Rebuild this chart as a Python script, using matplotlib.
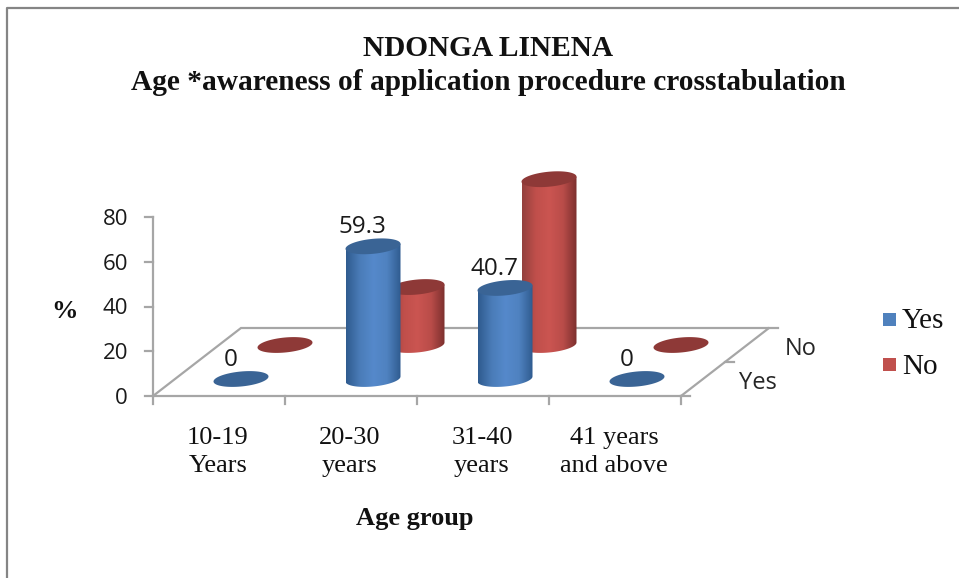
import matplotlib
matplotlib.use("Agg")
import matplotlib.pyplot as plt
import numpy as np
from matplotlib.colors import LinearSegmentedColormap
from matplotlib.patches import Rectangle, Polygon

# data
categories = ["10-19\nYears", "20-30\nyears", "31-40\nyears", "41 years\nand above"]
series_names = ["Yes", "No"]
yes_values = [0, 59.3, 40.7, 0]
no_values = [0, 25.9, 74.1, 0]
y_ticks = [0, 20, 40, 60, 80]

SERIF = "Liberation Serif"
SANS = "Open Sans"
GREY = "#a6a6a6"

# pixel layout of the 3d box
X0, Y0 = 153, 396
CAT_W = 132
PX_PER_UNIT = 179 / 80
DEPTH_X, DEPTH_Y = 88, -68
RX, RY, TILT = 27.5, 7.5, -2.5


def project(cat, depth, value):
    # cat in category units, depth 0..1 front to back, value in %
    return X0 + cat * CAT_W + depth * DEPTH_X, Y0 + depth * DEPTH_Y - value * PX_PER_UNIT


def ellipse_pts(cx, cy, t):
    return np.column_stack([cx + RX * np.cos(t), cy + RY * np.sin(t) + TILT * np.cos(t)])


fig = plt.figure(figsize=(9.59, 5.78), dpi=100)
ax = fig.add_axes([0, 0, 1, 1])
ax.axis("off")

# frame of the chart area
ax.plot([6.5, 6.5, 959], [578, 7.5, 7.5], color="#858585", lw=1.6, solid_capstyle="butt")

# value axis
xa, ya0 = project(0, 0, 0)
xa, ya1 = project(0, 0, max(y_ticks))
ax.plot([xa, xa], [ya0, ya1], color=GREY, lw=1.6)
for v in y_ticks:
    x, y = project(0, 0, v)
    ax.plot([x - 8, x], [y, y], color=GREY, lw=1.6)
    ax.text(x - 25, y + 2.5, str(v), ha="right", va="center", family=SANS, fontsize=16, color="#1a1a1a")

# floor
n = len(categories)
floor = [project(0, 0, 0), project(n, 0, 0), project(n, 1, 0), project(0, 1, 0)]
ax.add_patch(Polygon(floor, closed=True, fill=False, edgecolor=GREY, lw=1.6))
for i in range(n + 1):
    x, y = project(i, 0, 0)
    ax.plot([x, x], [y, y + 8], color=GREY, lw=1.6)
for d in [0, 0.5, 1]:
    x, y = project(n, d, 0)
    ax.plot([x, x + 9], [y, y], color=GREY, lw=1.6)

# cylinders, back row first
cmaps = {
    "Yes": LinearSegmentedColormap.from_list("b", ["#2f5b8f", "#4a7cb8", "#5589cb", "#4f82c0", "#2f5b8f"]),
    "No": LinearSegmentedColormap.from_list("r", ["#93403d", "#c04f4b", "#cb5551", "#b94c49", "#7c302e"]),
}
top_colors = {"Yes": "#3a6495", "No": "#8e3937"}
grad = np.linspace(0, 1, 128).reshape(1, -1)
for name, values, depth in [("No", no_values, 0.75), ("Yes", yes_values, 0.25)]:
    for i, v in enumerate(values):
        cx, cy0 = project(i + 0.5, depth, 0)
        cx, cy1 = project(i + 0.5, depth, v)
        if v > 0:
            arc = ellipse_pts(cx, cy0, np.linspace(np.pi, 0, 60))
            body = np.vstack([[cx - RX, cy1 - TILT], arc, [cx + RX, cy1 + TILT]])
            im = ax.imshow(grad, cmap=cmaps[name], aspect="auto",
                           extent=(cx - RX, cx + RX, cy0 + RY + 4, cy1 - RY - 4), zorder=2 + i)
            im.set_clip_path(Polygon(body, closed=True, transform=ax.transData))
        top = ellipse_pts(cx, cy1, np.linspace(0, 2 * np.pi, 80))
        ax.add_patch(Polygon(top, closed=True, facecolor=top_colors[name], edgecolor="none", zorder=2 + i))

# data labels (only the Yes series is labelled)
for i, v in enumerate(yes_values):
    x, y = project(i + 0.5, 0.25, v)
    ax.text(x - 10.5, y - 19, f"{v:g}", ha="center", va="center", family=SANS, fontsize=17.5,
            color="#1a1a1a", zorder=20)

# category labels
for i, c in enumerate(categories):
    x, y = project(i + 0.5, 0, 0)
    ax.text(x - 1, 452, c, ha="center", va="center", family=SERIF, fontsize=19,
            linespacing=1.35, color="#111111")

# series labels on the depth axis
for name, depth, dx in zip(series_names, [0.25, 0.75], [36, 38]):
    x, y = project(n, depth, 0)
    ax.text(x + dx, y + 4, name, ha="left", va="center", family=SANS, fontsize=17, color="#262626")

# titles
ax.text(488, 48, "NDONGA LINENA", ha="center", va="center", family=SERIF, weight="bold",
        fontsize=21.2, color="#111111")
ax.text(488, 82, "Age *awareness of application procedure crosstabulation", ha="center", va="center",
        family=SERIF, weight="bold", fontsize=21.2, color="#111111")
ax.text(415, 519, "Age group", ha="center", va="center", family=SERIF, weight="bold",
        fontsize=19, color="#111111")
ax.text(64, 311, "%", ha="center", va="center", family=SERIF, weight="bold", fontsize=19, color="#111111")

# legend
legend_colors = {"Yes": "#4f81bd", "No": "#c0504d"}
for name, y in zip(series_names, [319, 364]):
    ax.add_patch(Rectangle((883, y - 6.5), 12.5, 13, facecolor=legend_colors[name], edgecolor="none"))
    ax.text(902, y + 2.5, name, ha="left", va="center", family=SERIF, fontsize=21, color="#111111")

ax.set_xlim(0, 959)
ax.set_ylim(578, 0)
fig.savefig("out.png", dpi=100)
